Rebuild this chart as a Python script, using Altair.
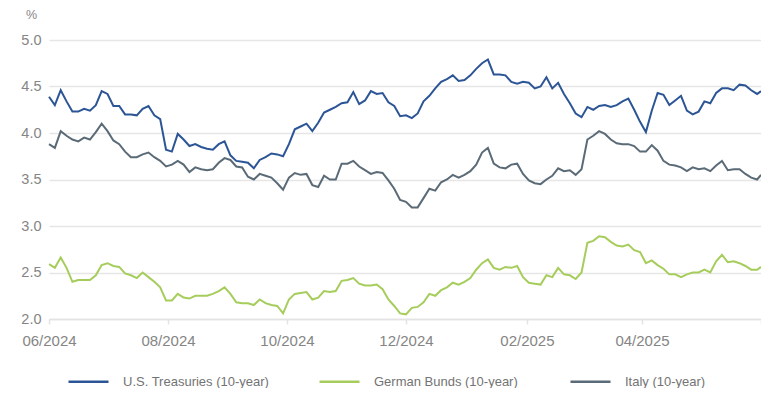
import altair as alt
import pandas as pd

dates = [
    "2024-06-01", "2024-06-04", "2024-06-07", "2024-06-10", "2024-06-13", "2024-06-16", "2024-06-19", "2024-06-22", "2024-06-25", "2024-06-28",
    "2024-07-01", "2024-07-04", "2024-07-07", "2024-07-10", "2024-07-13", "2024-07-16", "2024-07-19", "2024-07-22", "2024-07-25", "2024-07-28",
    "2024-07-31", "2024-08-03", "2024-08-06", "2024-08-09", "2024-08-12", "2024-08-15", "2024-08-18", "2024-08-21", "2024-08-24", "2024-08-27",
    "2024-08-30", "2024-09-02", "2024-09-05", "2024-09-08", "2024-09-11", "2024-09-14", "2024-09-17", "2024-09-20", "2024-09-23", "2024-09-26",
    "2024-09-29", "2024-10-02", "2024-10-05", "2024-10-08", "2024-10-11", "2024-10-14", "2024-10-17", "2024-10-20", "2024-10-23", "2024-10-26",
    "2024-10-29", "2024-11-01", "2024-11-04", "2024-11-07", "2024-11-10", "2024-11-13", "2024-11-16", "2024-11-19", "2024-11-22", "2024-11-25",
    "2024-11-28", "2024-12-01", "2024-12-04", "2024-12-07", "2024-12-10", "2024-12-13", "2024-12-16", "2024-12-19", "2024-12-22", "2024-12-25",
    "2024-12-28", "2024-12-31", "2025-01-03", "2025-01-06", "2025-01-09", "2025-01-12", "2025-01-15", "2025-01-18", "2025-01-21", "2025-01-24",
    "2025-01-27", "2025-01-30", "2025-02-02", "2025-02-05", "2025-02-08", "2025-02-11", "2025-02-14", "2025-02-17", "2025-02-20", "2025-02-23",
    "2025-02-26", "2025-03-01", "2025-03-04", "2025-03-07", "2025-03-10", "2025-03-13", "2025-03-16", "2025-03-19", "2025-03-22", "2025-03-25",
    "2025-03-28", "2025-03-31", "2025-04-03", "2025-04-06", "2025-04-09", "2025-04-12", "2025-04-15", "2025-04-18", "2025-04-21", "2025-04-24",
    "2025-04-27", "2025-04-30", "2025-05-03", "2025-05-06", "2025-05-09", "2025-05-12", "2025-05-15", "2025-05-18", "2025-05-21", "2025-05-24",
    "2025-05-27", "2025-05-30", "2025-06-01",
]

us_treasuries = [
    4.39, 4.30, 4.46, 4.34, 4.23, 4.23, 4.26, 4.24, 4.30, 4.45,
    4.42, 4.29, 4.29, 4.20, 4.20, 4.19, 4.26, 4.29, 4.19, 4.15,
    3.82, 3.80, 3.99, 3.93, 3.86, 3.88, 3.85, 3.83, 3.82, 3.88,
    3.91, 3.76, 3.70, 3.69, 3.68, 3.62, 3.71, 3.74, 3.78, 3.77,
    3.75, 3.88, 4.04, 4.07, 4.10, 4.02, 4.11, 4.22, 4.25, 4.28,
    4.32, 4.33, 4.44, 4.31, 4.35, 4.45, 4.42, 4.43, 4.33, 4.29,
    4.18, 4.19, 4.16, 4.21, 4.34, 4.40, 4.48, 4.55, 4.58, 4.62,
    4.56, 4.57, 4.62, 4.69, 4.75, 4.79, 4.63, 4.63, 4.62, 4.55,
    4.53, 4.55, 4.54, 4.48, 4.50, 4.60, 4.48, 4.54, 4.42, 4.32,
    4.21, 4.17, 4.28, 4.25, 4.29, 4.30, 4.28, 4.30, 4.34, 4.37,
    4.25, 4.12, 4.01, 4.24, 4.43, 4.41, 4.30, 4.35, 4.40, 4.24,
    4.20, 4.23, 4.34, 4.32, 4.43, 4.48, 4.48, 4.46, 4.52, 4.51,
    4.46, 4.42, 4.45,
]

german_bunds = [
    2.59, 2.55, 2.66, 2.55, 2.40, 2.42, 2.42, 2.42, 2.47, 2.58,
    2.60, 2.57, 2.56, 2.49, 2.47, 2.44, 2.50, 2.45, 2.40, 2.34,
    2.20, 2.20, 2.27, 2.23, 2.22, 2.25, 2.25, 2.25, 2.27, 2.30,
    2.34, 2.27, 2.18, 2.17, 2.17, 2.15, 2.21, 2.17, 2.15, 2.14,
    2.06, 2.21, 2.27, 2.28, 2.29, 2.21, 2.23, 2.30, 2.29, 2.30,
    2.41, 2.42, 2.44, 2.38, 2.36, 2.36, 2.37, 2.32, 2.21, 2.14,
    2.06, 2.05, 2.12, 2.13, 2.18, 2.27, 2.25, 2.31, 2.34, 2.39,
    2.37, 2.40, 2.44, 2.53, 2.60, 2.64, 2.55, 2.53, 2.56, 2.55,
    2.57, 2.45, 2.39, 2.38, 2.37, 2.47, 2.45, 2.55, 2.48, 2.47,
    2.43, 2.50, 2.82, 2.84, 2.89, 2.88, 2.83, 2.79, 2.78, 2.80,
    2.74, 2.72, 2.60, 2.63, 2.58, 2.54, 2.48, 2.48, 2.45, 2.48,
    2.50, 2.50, 2.53, 2.50, 2.62, 2.69, 2.61, 2.62, 2.60, 2.57,
    2.53, 2.53, 2.56,
]

italy = [
    3.88, 3.84, 4.02, 3.97, 3.93, 3.91, 3.95, 3.93, 4.01, 4.10,
    4.02, 3.92, 3.88, 3.80, 3.74, 3.74, 3.77, 3.79, 3.74, 3.70,
    3.64, 3.66, 3.70, 3.66, 3.58, 3.63, 3.61, 3.60, 3.61, 3.68,
    3.73, 3.71, 3.64, 3.63, 3.53, 3.50, 3.56, 3.54, 3.52, 3.46,
    3.39, 3.52, 3.57, 3.55, 3.56, 3.44, 3.42, 3.54, 3.50, 3.50,
    3.67, 3.67, 3.70, 3.64, 3.60, 3.56, 3.58, 3.57, 3.49, 3.40,
    3.28, 3.26, 3.20, 3.20, 3.30, 3.40, 3.38, 3.47, 3.50, 3.55,
    3.52, 3.55, 3.59, 3.66, 3.79, 3.84, 3.67, 3.63, 3.62, 3.66,
    3.67, 3.56, 3.49, 3.46, 3.45, 3.50, 3.54, 3.62, 3.59, 3.60,
    3.55, 3.61, 3.93, 3.97, 4.02, 3.99, 3.93, 3.89, 3.88, 3.88,
    3.86, 3.80, 3.80, 3.87, 3.81, 3.70, 3.66, 3.65, 3.63, 3.59,
    3.63, 3.61, 3.62, 3.59, 3.65, 3.70, 3.60, 3.61, 3.61, 3.56,
    3.52, 3.50, 3.55,
]

series_names = ["U.S. Treasuries (10-year)", "German Bunds (10-year)", "Italy (10-year)"]
series_colors = ["#2c5596", "#a6cd5c", "#5a6b77"]
y_ticks = [2.0, 2.5, 3.0, 3.5, 4.0, 4.5, 5.0]

rows = []
for name, vals in zip(series_names, [us_treasuries, german_bunds, italy]):
    for d, v in zip(dates, vals):
        rows.append({"date": d, "series": name, "value": v})
df = pd.DataFrame(rows)

FONT = "Liberation Sans"
x_tick_values = [
    alt.DateTime(year=2024, month=6, date=1, utc=True),
    alt.DateTime(year=2024, month=8, date=1, utc=True),
    alt.DateTime(year=2024, month=10, date=1, utc=True),
    alt.DateTime(year=2024, month=12, date=1, utc=True),
    alt.DateTime(year=2025, month=2, date=1, utc=True),
    alt.DateTime(year=2025, month=4, date=1, utc=True),
    alt.DateTime(year=2025, month=6, date=1, utc=True),
]

chart = alt.Chart(df).mark_line(strokeWidth=2).encode(
    x=alt.X(
        "date:T",
        scale=alt.Scale(
            type="utc",
            domain=[alt.DateTime(year=2024, month=6, date=1, utc=True),
                    alt.DateTime(year=2025, month=6, date=1, utc=True)],
        ),
        axis=alt.Axis(
            title=None,
            values=x_tick_values,
            labelExpr="datum.value > utc(2025, 4, 15) ? '' : utcFormat(datum.value, '%m/%Y')",
            grid=False,
            domainColor="#e3e3e3",
            domainWidth=1.5,
            tickColor="#e3e3e3",
            tickWidth=1.5,
            tickSize=5,
            labelPadding=9,
            labelFont=FONT,
            labelFontSize=15,
            labelColor="#858585",
            labelAlign="center",
        ),
    ),
    y=alt.Y(
        "value:Q",
        scale=alt.Scale(domain=[2.0, 5.0], nice=False, zero=False),
        axis=alt.Axis(
            title="%",
            titleAngle=0,
            titleX=-18,
            titleY=-22,
            titleAlign="center",
            titleBaseline="alphabetic",
            titleFont=FONT,
            titleFontSize=12.5,
            titleFontWeight="normal",
            titleColor="#858585",
            values=y_ticks,
            format=".1f",
            domain=False,
            ticks=False,
            tickSize=0,
            labelPadding=8,
            labelFont=FONT,
            labelFontSize=14.5,
            labelColor="#858585",
            gridColor="#e6e6e6",
            gridWidth=1.5,
        ),
    ),
    color=alt.Color(
        "series:N",
        scale=alt.Scale(domain=series_names, range=series_colors),
        legend=alt.Legend(
            title=None,
            orient="none",
            legendX=18,
            legendY=320,
            direction="horizontal",
            columns=3,
            gridAlign="all",
            columnPadding=44,
            symbolType="stroke",
            symbolSize=1600,
            symbolStrokeWidth=2.5,
            labelFont=FONT,
            labelFontSize=13,
            labelColor="#737373",
            labelOffset=13,
            labelLimit=300,
            padding=0,
        ),
    ),
).properties(
    width=712,
    height=279,
    autosize=alt.AutoSizeParams(type="none"),
    padding={"left": 41, "top": 32, "right": 0, "bottom": 69},
).configure_view(stroke=None)

chart.save("out.html", embed_options={"renderer": "svg", "actions": False})
